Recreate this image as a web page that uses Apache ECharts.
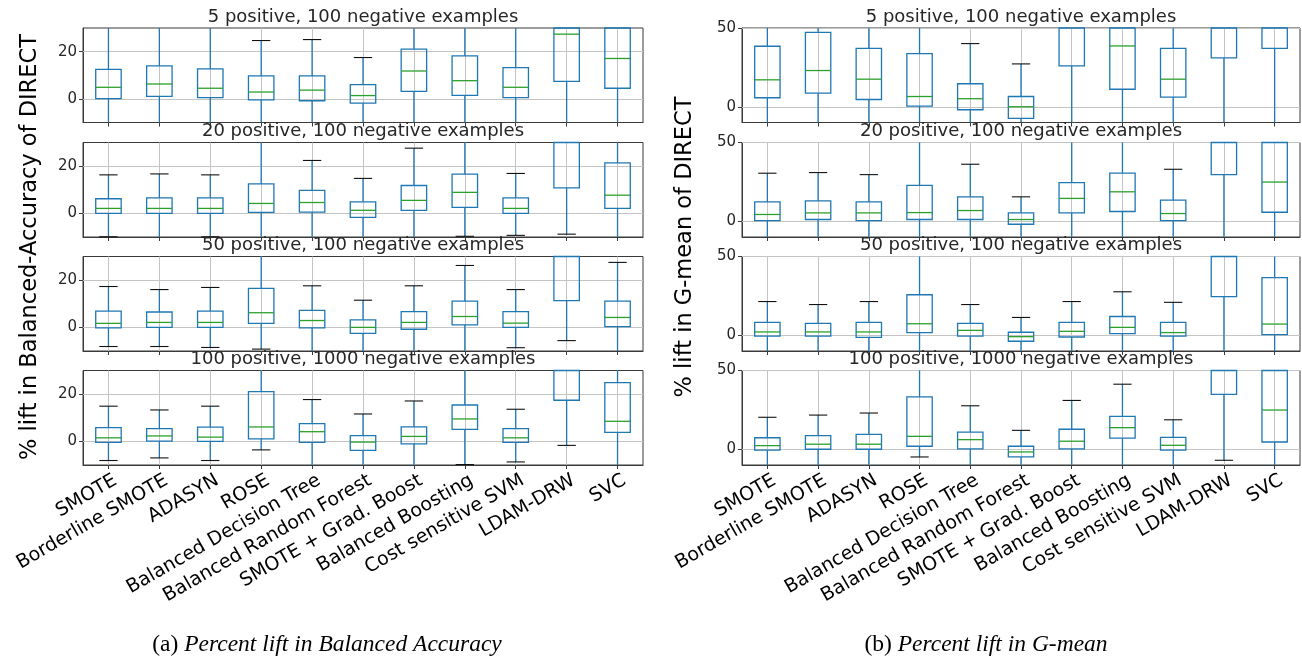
<!DOCTYPE html>
<html>
<head>
<meta charset="utf-8">
<script src="https://cdn.jsdelivr.net/npm/echarts@6/dist/echarts.min.js"></script>
<style>
  html, body { margin: 0; padding: 0; background: #fff; }
  #chart { width: 1302px; height: 660px; }
</style>
</head>
<body>
<div id="chart"></div>
<script>
// methods on the x axis
const methods = ['SMOTE', 'Borderline SMOTE', 'ADASYN', 'ROSE', 'Balanced Decision Tree',
  'Balanced Random Forest', 'SMOTE + Grad. Boost', 'Balanced Boosting', 'Cost sensitive SVM',
  'LDAM-DRW', 'SVC'];
const panelTitles = ['5 positive, 100 negative examples', '20 positive, 100 negative examples',
  '50 positive, 100 negative examples', '100 positive, 1000 negative examples'];

// each item: [low whisker, Q1, median, Q3, high whisker]  (% lift)
// balanced accuracy
const baccPos5 = [[-15, 0.1, 4.9, 12.5, 35], [-15, 1.1, 6.3, 14.0, 35], [-15, 0.5, 4.5, 12.7, 35],
  [-15, -0.4, 2.9, 9.7, 24.7], [-15, -0.8, 3.7, 9.7, 25.1], [-15, -1.8, 1.4, 6.0, 17.5],
  [-15, 3.2, 11.8, 21.1, 40], [-15, 1.5, 7.7, 18.2, 40], [-15, 0.5, 4.9, 13.2, 35],
  [-15, 7.4, 27.4, 45, 80], [-15, 4.5, 17.1, 35, 70]];
const baccPos20 = [[-9.9, 0, 2.1, 6.2, 16.3], [-15, 0, 2.1, 6.6, 16.7], [-9.9, 0, 2.1, 6.6, 16.3],
  [-15, 0.4, 4.2, 12.5, 35], [-15, 0.5, 4.6, 9.7, 22.4], [-15, -1.7, 1.3, 4.9, 14.8],
  [-15, 1.3, 5.5, 11.8, 27.6], [-9.7, 2.5, 8.9, 16.6, 35], [-9.3, 0, 2.1, 6.6, 16.9],
  [-8.8, 10.8, 35, 50, 80], [-15, 2.1, 7.7, 21.4, 40]];
const baccPos50 = [[-8.1, -0.2, 1.7, 6.9, 17.3], [-8.1, 0, 2.1, 6.5, 16.0], [-8.5, 0, 2.1, 6.9, 16.9],
  [-9.2, 1.7, 6.2, 16.5, 35], [-15, -0.2, 2.9, 7.2, 17.6], [-15, -2.5, 0, 3.2, 11.5],
  [-15, -0.8, 2.1, 6.7, 17.6], [-15, 1.1, 4.6, 11.1, 26.2], [-8.6, 0, 1.8, 6.7, 16.0],
  [-5.6, 11.3, 35, 50, 80], [-15, 0.3, 4.2, 11.1, 27.5]];
const baccPos100 = [[-8.1, -0.4, 1.5, 5.8, 14.9], [-7.0, 0.1, 2.3, 5.4, 13.3], [-8.1, 0, 1.8, 6.0, 14.9],
  [-3.6, 1.1, 6.1, 21.1, 35], [-15, -0.4, 4.1, 7.5, 17.7], [-15, -3.8, -0.3, 2.4, 11.6],
  [-15, -1.1, 2.1, 6.1, 17.1], [-9.8, 5.1, 9.5, 15.4, 35], [-8.7, -0.4, 1.5, 5.4, 13.6],
  [-1.7, 17.4, 40, 55, 80], [-15, 3.8, 8.5, 24.9, 40]];
// g-mean
const gmeanPos5 = [[-15, 5.7, 17.1, 38.4, 70], [-15, 8.6, 23.0, 47.2, 70], [-15, 4.6, 17.5, 37.1, 70],
  [-15, 0.4, 6.5, 33.7, 70], [-15, -1.9, 5.1, 14.6, 40.1], [-15, -7.4, 0, 6.5, 27.2],
  [-15, 25.9, 55, 80, 120], [-15, 11.1, 38.6, 60, 100], [-15, 6.1, 17.5, 37.1, 70],
  [-15, 31.0, 60, 90, 130], [-15, 37.1, 60, 90, 130]];
const gmeanPos20 = [[-15, 0.4, 4.3, 12.3, 30.5], [-15, 1.1, 5.3, 13.0, 30.9], [-15, 0.4, 5.3, 12.3, 29.6],
  [-15, 1.1, 5.5, 22.8, 60], [-15, 1.1, 6.8, 15.5, 36.2], [-15, -1.9, 1.1, 5.3, 15.5],
  [-15, 5.3, 14.5, 24.5, 60], [-15, 6.2, 18.7, 30.5, 60], [-15, 0.4, 4.9, 13.4, 33.0],
  [-15, 29.6, 60, 90, 130], [-15, 5.7, 24.9, 55, 100]];
const gmeanPos50 = [[-15, -0.6, 2.1, 8.2, 21.4], [-15, -0.6, 2.1, 7.5, 19.5], [-15, -1.3, 2.1, 8.2, 21.4],
  [-15, 1.7, 7.3, 25.7, 60], [-15, -0.6, 3.1, 7.5, 19.5], [-15, -3.8, -0.9, 1.9, 11.3],
  [-15, -1.1, 2.5, 8.2, 21.4], [-15, 1.0, 5.0, 11.9, 27.6], [-15, -0.6, 1.7, 8.2, 20.9],
  [-15, 24.5, 60, 90, 130], [-15, 0.4, 7.1, 36.6, 60]];
const gmeanPos100 = [[-15, -0.6, 2.3, 7.3, 20.3], [-15, 0, 3.2, 8.6, 21.7], [-15, 0, 3.2, 9.5, 23.0],
  [-4.9, 1.9, 8.2, 33.3, 60], [-15, 0.2, 6.1, 10.9, 27.6], [-15, -4.9, -1.7, 1.9, 12.0],
  [-15, 0.2, 5.1, 12.7, 31.0], [-15, 7.0, 13.7, 20.9, 41.3], [-15, -0.6, 2.5, 7.6, 18.7],
  [-7.0, 34.8, 60, 90, 130], [-15, 4.6, 24.9, 55, 100]];

const baccTicks = [0, 20];
const gmeanTicks = [0, 50];

const columns = [
  { left: 83, width: 560, min: -10, max: 30, ticks: baccTicks,
    panels: [baccPos5, baccPos20, baccPos50, baccPos100],
    yName: '% lift in Balanced-Accuracy of DIRECT', yNameX: 30,
    capTag: '(a) ', caption: 'Percent lift in Balanced Accuracy', capX: 327 },
  { left: 742, width: 558, min: -10, max: 50, ticks: gmeanTicks,
    panels: [gmeanPos5, gmeanPos20, gmeanPos50, gmeanPos100],
    yName: '% lift in G-mean of DIRECT', yNameX: 685,
    capTag: '(b) ', caption: 'Percent lift in G-mean', capX: 986 }
];
const rowTops = [28, 142.5, 256.5, 370.5];
const rowHeight = 94.5;

const BLUE = '#1f77b4', GREEN = '#2ca02c', FRAME = '#3a3a3a', GRID = '#c4c4c4';
const FONT = 'DejaVu Sans';

// draws one matplotlib-style box: blue box & whiskers, black caps, green median
function renderBox(params, api) {
  const cs = params.coordSys;
  const yTop = cs.y, yBot = cs.y + cs.height;
  const idx = api.value(0);
  const cx = api.coord([idx, 0])[0];
  const half = api.size([1, 0])[0] * 0.25;
  const capHalf = half * 0.72;
  const py = v => api.coord([idx, v])[1];
  const clamp = p => Math.min(yBot, Math.max(yTop, p));
  const inside = p => p >= yTop - 0.5 && p <= yBot + 0.5;
  const pLo = py(api.value(1)), pQ1 = py(api.value(2)), pMed = py(api.value(3));
  const pQ3 = py(api.value(4)), pHi = py(api.value(5));
  const blue = { stroke: BLUE, lineWidth: 1.3, fill: null };
  const kids = [];
  kids.push({ type: 'line', shape: { x1: cx, y1: clamp(pQ1), x2: cx, y2: clamp(pLo) }, style: blue });
  kids.push({ type: 'line', shape: { x1: cx, y1: clamp(pQ3), x2: cx, y2: clamp(pHi) }, style: blue });
  [pLo, pHi].forEach(p => {
    if (inside(p)) {
      kids.push({ type: 'line', shape: { x1: cx - capHalf, y1: p, x2: cx + capHalf, y2: p },
        style: { stroke: '#111', lineWidth: 1.1 } });
    }
  });
  const b1 = clamp(pQ3), b2 = clamp(pQ1);
  kids.push({ type: 'rect', shape: { x: cx - half, y: b1, width: half * 2, height: b2 - b1 }, style: blue });
  if (inside(pMed)) {
    kids.push({ type: 'line', shape: { x1: cx - half, y1: pMed, x2: cx + half, y2: pMed },
      style: { stroke: GREEN, lineWidth: 1.3 } });
  }
  return { type: 'group', children: kids };
}

const grids = [], xAxes = [], yAxes = [], series = [], graphics = [];
columns.forEach((col, c) => {
  col.panels.forEach((panel, r) => {
    const i = grids.length;
    const bottom = r === rowTops.length - 1;
    grids.push({ left: col.left, top: rowTops[r], width: col.width, height: rowHeight,
      show: true, borderColor: FRAME, borderWidth: 1, backgroundColor: 'transparent' });
    xAxes.push({
      type: 'category', gridIndex: i, data: methods, boundaryGap: true,
      axisLine: { show: true, onZero: false, lineStyle: { color: FRAME } },
      axisTick: { show: true, alignWithLabel: true, interval: 0, length: 4, lineStyle: { color: FRAME } },
      axisLabel: { show: bottom, interval: 0, rotate: 30, fontSize: 19, fontFamily: FONT,
        color: '#000', margin: 2, verticalAlign: 'top', lineHeight: 28 },
      splitLine: { show: true, interval: 0, alignWithLabel: true, lineStyle: { color: GRID, width: 1 } }
    });
    yAxes.push({
      type: 'value', gridIndex: i, min: col.min, max: col.max,
      axisLine: { show: true, lineStyle: { color: FRAME } },
      axisTick: { show: true, length: 4, customValues: col.ticks, lineStyle: { color: FRAME } },
      axisLabel: { customValues: col.ticks, fontSize: 15, fontFamily: FONT, color: '#262626', margin: 6 },
      splitLine: { show: false }
    });
    series.push({
      type: 'custom', xAxisIndex: i, yAxisIndex: i,
      data: panel.map((d, k) => [k].concat(d)),
      encode: { x: 0, y: [1, 2, 3, 4, 5] },
      renderItem: renderBox, silent: true, z: 5,
      // horizontal grid lines at the labelled ticks
      markLine: { silent: true, symbol: 'none', animation: false, label: { show: false },
        lineStyle: { color: GRID, width: 1, type: 'solid' },
        data: col.ticks.map(v => ({ yAxis: v })) }
    });
    graphics.push({ type: 'text', x: col.left + col.width / 2, y: rowTops[r] - 11, z: 10,
      style: { text: panelTitles[r], fontSize: 18, fontFamily: FONT, fill: '#262626',
        align: 'center', verticalAlign: 'middle' } });
  });
  graphics.push({ type: 'text', x: col.yNameX, y: 247, rotation: Math.PI / 2,
    style: { text: col.yName, fontSize: 22.5, fontFamily: FONT, fill: '#000',
      align: 'center', verticalAlign: 'middle' } });
  graphics.push({ type: 'text', x: col.capX, y: 645,
    style: { text: '{a|' + col.capTag + '}{b|' + col.caption + '}', align: 'center', verticalAlign: 'middle',
      rich: {
        a: { fontFamily: 'Liberation Serif', fontSize: 23.5, fill: '#000' },
        b: { fontFamily: 'Liberation Serif', fontSize: 23.5, fontStyle: 'italic', fill: '#000' }
      } } });
});

const chart = echarts.init(document.getElementById('chart'), null, { renderer: 'canvas' });
chart.setOption({
  animation: false,
  backgroundColor: '#fff',
  grid: grids,
  xAxis: xAxes,
  yAxis: yAxes,
  series: series,
  graphic: graphics
});
</script>
</body>
</html>
